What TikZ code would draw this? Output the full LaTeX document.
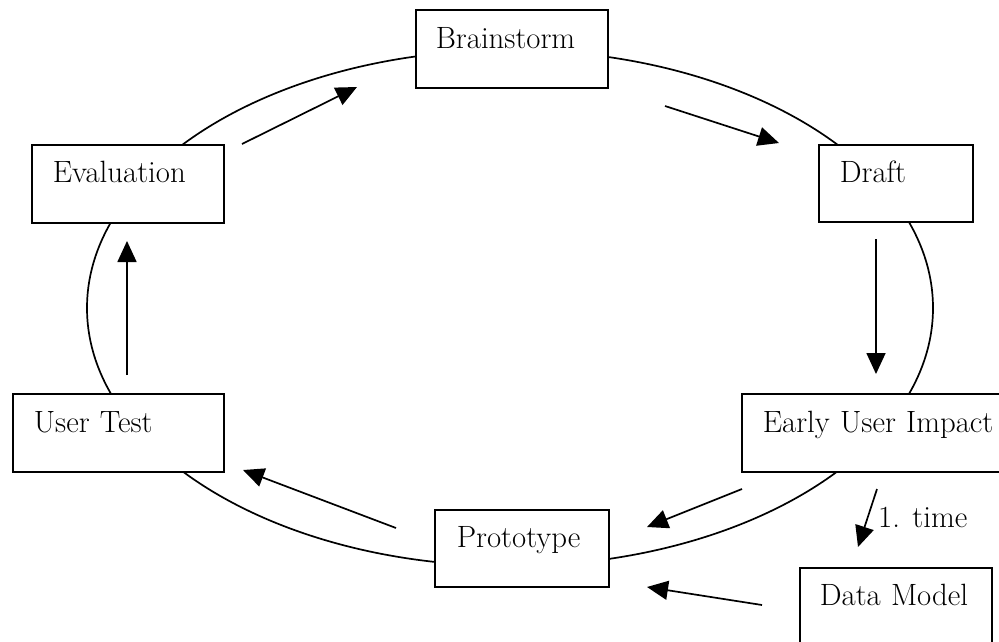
\documentclass[tikz,border=0pt]{standalone}
\usetikzlibrary{arrows.meta}
\begin{document}
\begin{tikzpicture}[x=1pt,y=-1pt,
  stagebox/.style={draw=black, line width=1.7pt, fill=white, anchor=north west,
    inner ysep=0pt, align=left, font=\fontsize{30.8}{32}\selectfont},
  flow/.style={line width=1.7pt, -{Triangle[length=21pt,width=19pt]}},
  lbl/.style={font=\fontsize{30.8}{32}\selectfont, inner sep=0pt, anchor=base west}]
\useasboundingbox (0,0) rectangle (999,641);
\fill[white] (0,0) rectangle (999,641);
% cycle ellipse
\draw[line width=1.7pt] (510,308) ellipse [x radius=423, y radius=258];
% stages
\node[stagebox, inner xsep=20pt, text width=152pt, text height=39pt, text depth=39pt] (brain) at (415,9) {Brainstorm};
\node[stagebox, inner xsep=21pt, text width=112pt, text height=38pt, text depth=39pt] (draft) at (818,144) {Draft};
\node[stagebox, inner xsep=21pt, text width=150pt, text height=38pt, text depth=40pt] (eval) at (31,144) {Evaluation};
\node[stagebox, inner xsep=21pt, text width=169pt, text height=39pt, text depth=39pt] (user) at (12,393) {User Test};
\node[stagebox, inner xsep=21pt, text width=232pt, text height=39pt, text depth=39pt] (early) at (741,393) {Early User Impact};
\node[stagebox, inner xsep=22pt, text width=130pt, text height=38pt, text depth=39pt] (proto) at (434,509) {Prototype};
\node[stagebox, inner xsep=20pt, text width=152pt, text height=38pt, text depth=55pt] (data) at (799,567) {Data Model};
% connector end points
\coordinate (e1s) at (242,144); \coordinate (e1t) at (357,87);
\coordinate (e2s) at (665,106); \coordinate (e2t) at (779,143);
\coordinate (e3s) at (876,239); \coordinate (e3t) at (876,374);
\coordinate (e4s) at (742,489); \coordinate (e4t) at (647,527);
\coordinate (e5s) at (396,528); \coordinate (e5t) at (243,470);
\coordinate (e6s) at (127,375); \coordinate (e6t) at (127,241);
\coordinate (e7s) at (877,489); \coordinate (e7t) at (858,547);
\coordinate (e8s) at (762,605); \coordinate (e8t) at (647,587);
\draw[flow] (e1s) -- (e1t);
\draw[flow] (e2s) -- (e2t);
\draw[flow] (e3s) -- (e3t);
\draw[flow] (e4s) -- (e4t);
\draw[flow] (e5s) -- (e5t);
\draw[flow] (e6s) -- (e6t);
\draw[flow] (e7s) -- (e7t);
\draw[flow] (e8s) -- (e8t);
\node[lbl] (time) at (878,527) {1. time};
\end{tikzpicture}
\end{document}
